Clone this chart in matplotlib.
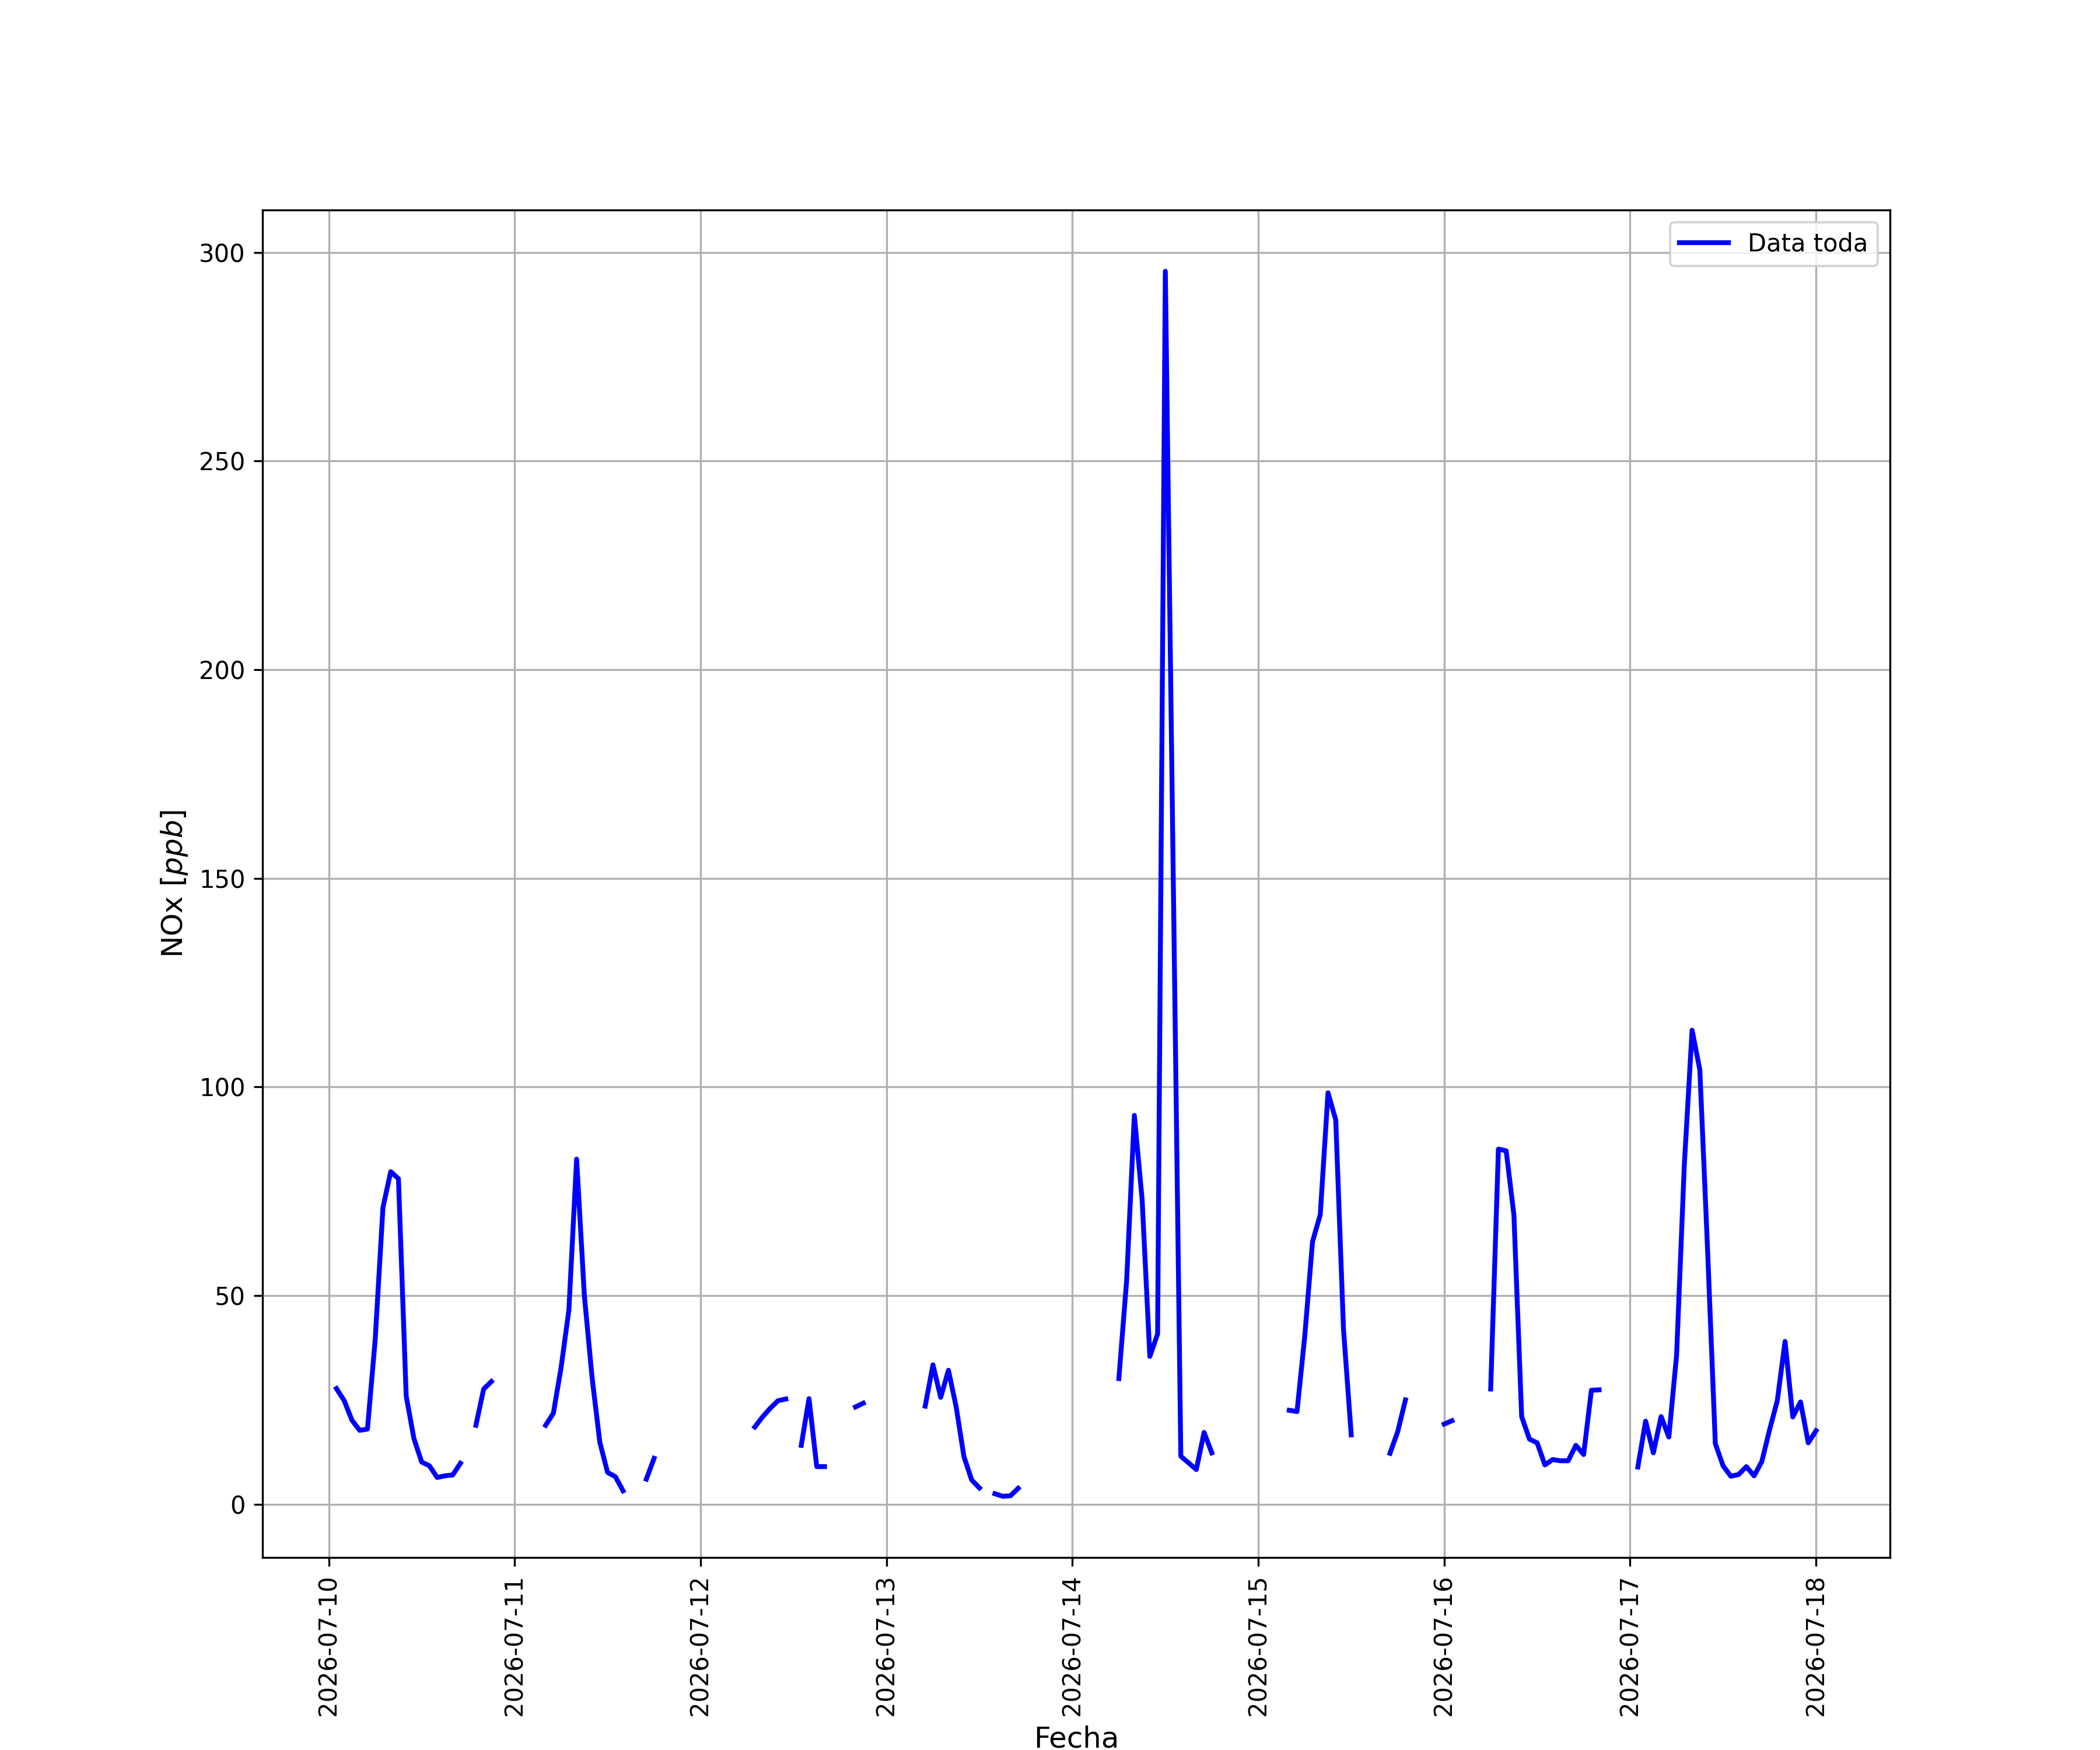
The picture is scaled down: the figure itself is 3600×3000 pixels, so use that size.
import numpy as np
import pandas as pd
import matplotlib
matplotlib.use('Agg')
import matplotlib.pyplot as plt
import matplotlib.dates as mdates

n = np.nan

# valores horarios de NOx por dia (ppb), NaN = sin dato
dia_10 = [27.7, 24.8, 20.1, 17.7, 18.0, 39.5, 71.1, 79.7, 78.0, 25.9, 15.7, 10.1,
          9.2, 6.4, 6.8, 7.0, 9.8, n, 18.9, 27.6, 29.4, n, n]  # desde 01:00
dia_11 = [n, n, n, n, 18.9, 21.8, 32.8, 46.5, 82.7, 50.0, 30.3, 14.8,
          7.6, 6.6, 3.2, n, n, 6.0, 11.0, n, n, n, n, n]
dia_12 = [n, n, n, n, n, n, n, 18.5, 20.9, 23.0, 24.8, 25.2,
          n, 14.1, 25.3, 9.0, 9.0, n, n, n, 23.3, 24.2, n, n]
dia_13 = [n, n, n, n, n, 23.5, 33.4, 25.6, 32.1, 23.3, 11.4, 5.8,
          3.9, n, 2.5, 1.9, 2.0, 3.8, n, n, n, n, n, n]
dia_14 = [n, n, n, n, n, n, 30.1, 53.5, 93.2, 73.1, 35.4, 40.8,
          295.5, 153.0, 11.5, 9.9, 8.3, 17.2, 12.3, n, n, n, n, n]
dia_15 = [n, n, n, n, 22.5, 22.2, 40.3, 62.9, 69.4, 98.6, 92.1, 41.9,
          16.6, n, n, n, n, 12.2, 17.4, 25.0, n, n, n, n]
dia_16 = [19.2, 20.0, n, n, n, n, 27.6, 85.1, 84.7, 69.3, 21.0, 15.6,
          14.7, 9.4, 10.7, 10.4, 10.4, 14.1, 11.9, 27.3, 27.4, n, n, n]
dia_17 = [n, 8.9, 19.9, 12.3, 21.0, 16.1, 35.7, 81.4, 113.6, 104.1, 61.0, 14.5,
          9.2, 6.7, 7.1, 9.0, 6.8, 10.2, 17.8, 24.8, 39.0, 20.9, 24.5, 14.7]
dia_18 = [17.6]

nox = dia_10 + dia_11 + dia_12 + dia_13 + dia_14 + dia_15 + dia_16 + dia_17 + dia_18
fechas = pd.date_range('2026-07-10 01:00', periods=len(nox), freq='h')

df = pd.DataFrame({'NOx': nox}, index=fechas)

fig = plt.figure(figsize=(12, 10), dpi=300)
axes1 = fig.add_subplot(1, 1, 1)

axes1.plot(df.index, df['NOx'], color='blue', linewidth=2, label='Data toda')

axes1.xaxis.set_major_locator(mdates.DayLocator())
axes1.xaxis.set_major_formatter(mdates.DateFormatter('%Y-%m-%d'))
plt.setp(axes1.get_xticklabels(), rotation=90)

axes1.set_xlabel('Fecha', fontsize=12)
axes1.set_ylabel('NOx [$ppb$]', fontsize=12)
axes1.grid(True)
axes1.legend(loc='upper right')

fig.savefig('out.png', dpi=300)
